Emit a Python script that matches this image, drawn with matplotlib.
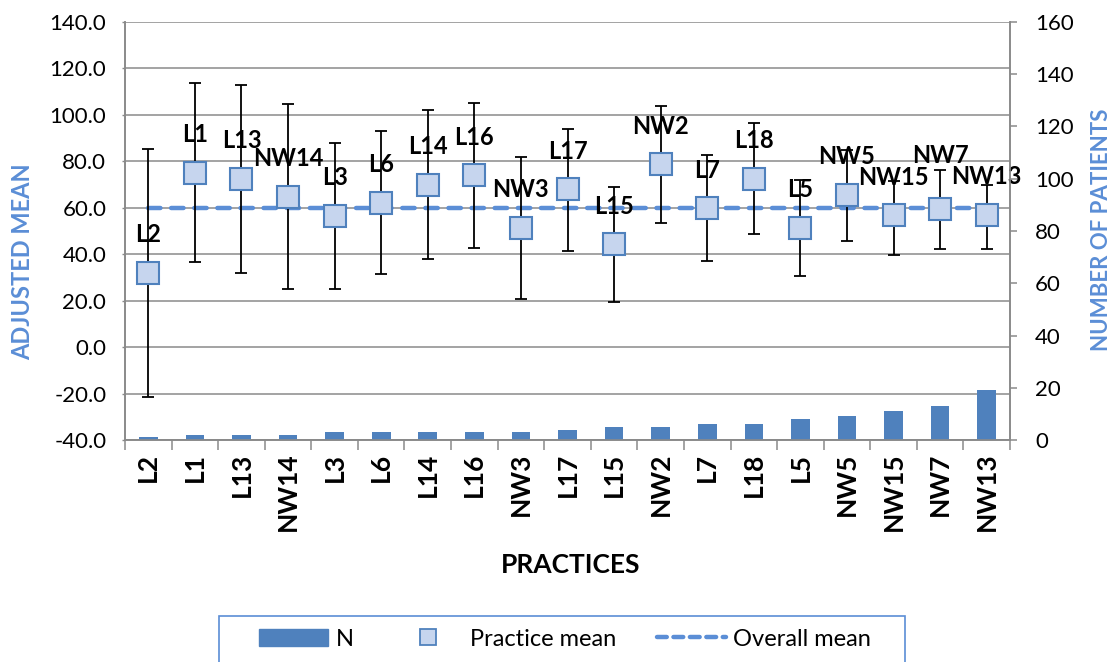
import matplotlib
matplotlib.use("Agg")
import matplotlib.pyplot as plt
import numpy as np
from matplotlib.lines import Line2D
from matplotlib.patches import Patch, Rectangle

plt.rcParams['font.family'] = ['Lato', 'DejaVu Sans']

practices = ["L2", "L1", "L13", "NW14", "L3", "L6", "L14", "L16", "NW3", "L17",
             "L15", "NW2", "L7", "L18", "L5", "NW5", "NW15", "NW7", "NW13"]
n_patients = [1, 2, 2, 2, 3, 3, 3, 3, 3, 4, 5, 5, 6, 6, 8, 9, 11, 13, 19]
practice_mean = [32.0, 75.0, 72.6, 64.7, 56.6, 62.1, 70.0, 74.0, 51.4, 68.0,
                 44.3, 78.7, 59.9, 72.6, 51.4, 65.7, 56.7, 59.4, 57.1]
ci_upper = [85.4, 113.6, 113.0, 104.7, 88.0, 92.9, 101.9, 105.0, 81.9, 94.0,
            69.0, 103.7, 82.6, 96.6, 71.9, 85.0, 71.6, 76.1, 69.7]
ci_lower = [-21.4, 36.6, 32.0, 24.9, 25.1, 31.3, 37.9, 42.7, 20.9, 41.6,
            19.4, 53.3, 37.0, 48.6, 30.7, 45.9, 39.7, 42.4, 42.3]
overall_mean = 60.0
left_ticks = [-40, -20, 0, 20, 40, 60, 80, 100, 120, 140]
right_ticks = [0, 20, 40, 60, 80, 100, 120, 140, 160]

BLUE = '#4f81bd'
LBLUE = '#5b8ed6'
GRID = '#8a8a8a'
FACE = '#c6d5ee'

W, H = 1115, 662
fig = plt.figure(figsize=(W / 100, H / 100), dpi=100)
ax = fig.add_axes([125 / W, 1 - 440 / H, (1010 - 125) / W, (440 - 22) / H])
ax2 = ax.twinx()

x = np.arange(len(practices))
means = np.array(practice_mean)
lo = np.array(ci_lower)
hi = np.array(ci_upper)

# left axis
ax.set_ylim(-40, 140)
ax.set_xlim(-0.5, len(practices) - 0.5)
ax.set_yticks(left_ticks)
ax.set_yticklabels([f"{v:.1f}" for v in left_ticks])
ax.grid(axis='y', color=GRID, lw=1.1, zorder=0)
ax.set_axisbelow(True)

ax.plot(x, [overall_mean] * len(x), color=LBLUE, lw=3.2, dashes=(2.8, 2.4),
        dash_capstyle='round', zorder=2)
ax.errorbar(x, means, yerr=[means - lo, hi - means], fmt='none', ecolor='black',
            elinewidth=1.3, capsize=4.5, capthick=1.3, zorder=3)
ax.plot(x, means, ls='none', marker='s', ms=15.5, mfc=FACE, mec=BLUE,
        mew=1.5, zorder=5)
label_lift = {"NW7": 54}
for xi, m, lab in zip(x, means, practices):
    ax.annotate(lab, (xi, m), xytext=(0, label_lift.get(lab, 38)),
                textcoords='offset pixels', ha='center', va='center',
                fontsize=17, fontweight='bold', color='black', zorder=6)

# right axis bars
ax2.set_ylim(0, 160)
ax2.set_yticks(right_ticks)
ax2.bar(x, n_patients, width=0.4, color=BLUE, zorder=2)

# x ticks
ax.set_xticks(x)
ax.set_xticklabels(practices, rotation=90, fontsize=19, fontweight='bold', va='top')
ax.set_xticks(np.arange(-0.5, len(practices)), minor=True)
ax.tick_params(axis='x', which='major', length=0, pad=9)
ax.tick_params(axis='x', which='minor', length=7, width=1.1, color=GRID, direction='out')
ax.tick_params(axis='y', which='major', length=2.5, width=1.0, color=GRID,
               labelsize=16, pad=11, labelcolor='black')
ax2.tick_params(axis='y', which='major', length=5, width=1.1, color=GRID,
                labelsize=16, pad=13, labelcolor='black')

for a in (ax, ax2):
    for s in a.spines.values():
        s.set_color(GRID)
        s.set_linewidth(1.2)
    a.spines['top'].set_visible(False)

fig.text(23 / W, 1 - 262 / H, "ADJUSTED MEAN", rotation=90, ha='center', va='center',
         fontsize=17, fontweight='bold', color=LBLUE)
fig.text(1101 / W, 1 - 230 / H, "NUMBER OF PATIENTS", rotation=90, ha='center',
         va='center', fontsize=16, fontweight='bold', color=LBLUE)
fig.text(571 / W, 1 - 565 / H, "PRACTICES", ha='center', va='center',
         fontsize=19, fontweight='bold', color='black')

# legend
handles = [Patch(facecolor=BLUE, edgecolor=BLUE),
           Line2D([], [], ls='none', marker='s', ms=12, mfc=FACE, mec=BLUE, mew=1.3),
           Line2D([], [], color=LBLUE, lw=3.2, dashes=(2.2, 1.5), dash_capstyle='round')]
leg = fig.legend(handles, ["N", "Practice mean", "Overall mean"], loc='center',
                 bbox_to_anchor=(565 / W, 1 - 639 / H), ncol=3, frameon=False,
                 fontsize=17, handlelength=2.95, handleheight=0.75,
                 handletextpad=0.3, columnspacing=1.7)
fig.patches.append(Rectangle((219 / W, -0.05), (905 - 219) / W, 0.05 + 1 - 616 / H,
                             transform=fig.transFigure, fill=False,
                             edgecolor=LBLUE, lw=1.2))

fig.savefig("out.png", dpi=100)
